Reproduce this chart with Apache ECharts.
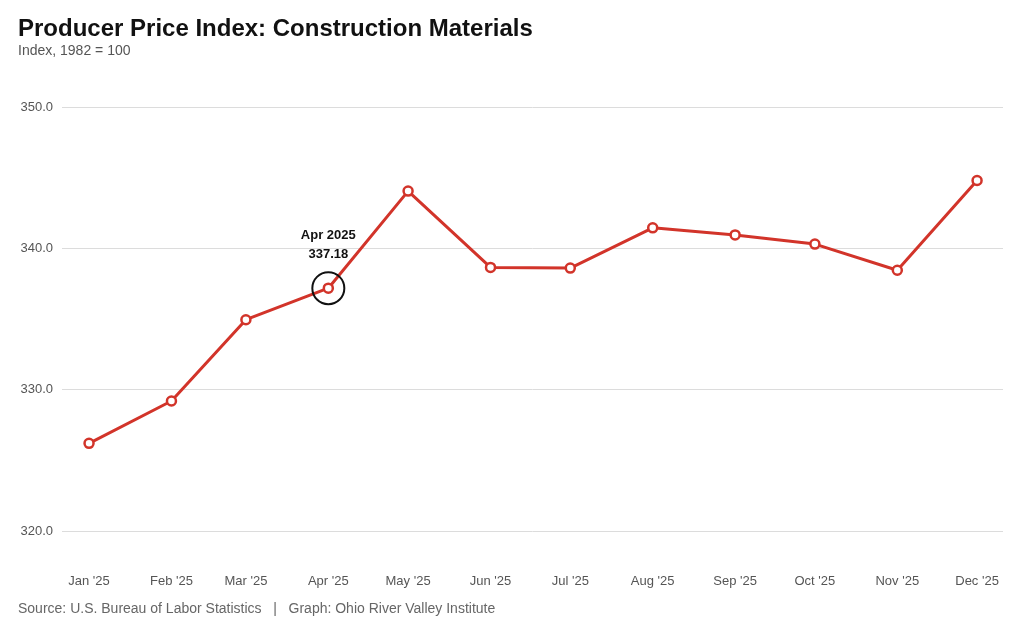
<!DOCTYPE html>
<html>
<head>
<meta charset="utf-8">
<script src="https://cdn.jsdelivr.net/npm/echarts@6/dist/echarts.min.js"></script>
<style>
  html, body { margin: 0; padding: 0; background: #fff; }
  #chart { width: 1024px; height: 631px; }
</style>
</head>
<body>
<div id="chart"></div>
<script>
// monthly PPI values
const monthNames = ['Jan', 'Feb', 'Mar', 'Apr', 'May', 'Jun', 'Jul', 'Aug', 'Sep', 'Oct', 'Nov', 'Dec'];
const monthIndex = [0, 1, 2, 3, 4, 5, 6, 7, 8, 9, 10, 11];
const ppiValues = [326.2, 329.2, 334.95, 337.18, 344.05, 338.65, 338.6, 341.45, 340.95, 340.3, 338.45, 344.8];
const yTicks = [320, 330, 340, 350];
const highlightMonth = 3;

const DAY = 86400000;
const seriesData = monthIndex.map((m, i) => [Date.UTC(2025, m, 1), ppiValues[i]]);

const chart = echarts.init(document.getElementById('chart'));

const option = {
  useUTC: true,
  animation: false,
  backgroundColor: '#fff',
  textStyle: { fontFamily: 'Liberation Sans, Arial, sans-serif' },
  title: [
    {
      text: 'Producer Price Index: Construction Materials',
      subtext: 'Index, 1982 = 100',
      left: 18, top: 17,
      padding: 0,
      itemGap: 3,
      textStyle: { fontSize: 24, fontWeight: 'bold', color: '#111' },
      subtextStyle: { fontSize: 14, color: '#555' }
    },
    {
      text: 'Source: U.S. Bureau of Labor Statistics   |   Graph: Ohio River Valley Institute',
      left: 18, top: 602,
      padding: 0,
      textStyle: { fontSize: 14, fontWeight: 'normal', color: '#666' }
    }
  ],
  grid: { left: 62, right: 21, top: 107, bottom: 100, containLabel: false },
  xAxis: {
    type: 'time',
    min: Date.UTC(2024, 11, 21, 20),
    max: Date.UTC(2025, 11, 10, 18),
    splitNumber: 12,
    minInterval: 28 * DAY,
    maxInterval: 31 * DAY,
    axisLine: { show: false },
    axisTick: { show: false },
    splitLine: { show: false },
    axisLabel: {
      margin: 44,
      color: '#555',
      fontSize: 13,
      showMinLabel: false,
      showMaxLabel: false,
      formatter: v => monthNames[new Date(v).getUTCMonth()] + " '25"
    }
  },
  yAxis: {
    type: 'value',
    min: yTicks[0],
    max: yTicks[yTicks.length - 1],
    interval: 10,
    axisLine: { show: false },
    axisTick: { show: false },
    axisLabel: { color: '#555', fontSize: 13, margin: 9, formatter: v => v.toFixed(1) },
    splitLine: { lineStyle: { color: '#dcdcdc', width: 1 } }
  },
  series: [
    {
      type: 'line',
      data: seriesData,
      symbol: 'circle',
      symbolSize: 9,
      lineStyle: { color: '#d2342a', width: 3 },
      itemStyle: { color: '#fff', borderColor: '#d2342a', borderWidth: 2.5 },
      z: 3,
      markPoint: {
        symbol: 'circle',
        symbolSize: 32,
        silent: true,
        itemStyle: { color: 'rgba(0,0,0,0)', borderColor: '#111', borderWidth: 2 },
        label: {
          show: true,
          position: 'top',
          distance: 7,
          color: '#111',
          fontSize: 13,
          fontWeight: 'bold',
          lineHeight: 19,
          formatter: 'Apr 2025\n' + ppiValues[highlightMonth].toFixed(2)
        },
        data: [{ coord: seriesData[highlightMonth] }]
      }
    }
  ]
};

chart.setOption(option);
</script>
</body>
</html>
